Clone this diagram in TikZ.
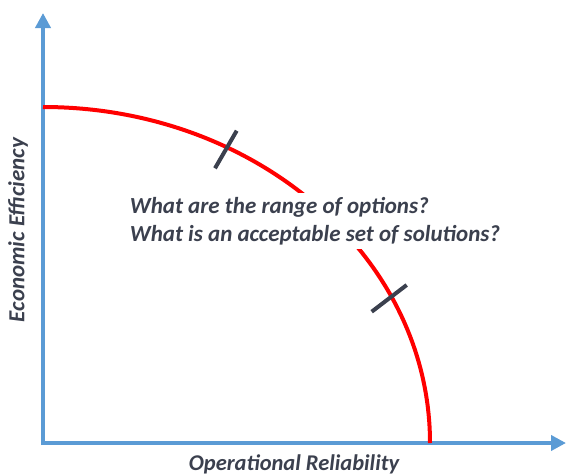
\documentclass[tikz,border=0pt]{standalone}
\usepackage{fontspec}
\setmainfont{Carlito}
\usetikzlibrary{arrows.meta}
\usetikzlibrary{positioning}
\definecolor{axisblue}{HTML}{5B9BD5}
\definecolor{slate}{HTML}{3B404E}
\begin{document}
\begin{tikzpicture}[x=1pt,y=-1pt,
  axis/.style={axisblue,line width=4pt,-{Triangle[width=15pt,length=15pt]}},
  front/.style={red,line width=4pt},
  tick/.style={slate,line width=4pt},
  every node/.style={text=slate,font=\bfseries\itshape}]
\useasboundingbox (0,0) rectangle (566,475);
% axes
\coordinate (o) at (43,443);
\coordinate (ytop) at (43,13);
\coordinate (xend) at (566,443);
\draw[axis] ([yshift=-2pt]o) -- (ytop);
\draw[axis] ([xshift=-2pt]o) -- (xend);
% trade-off curve
\draw[front] (43,107) arc[start angle=90,end angle=0,x radius=387,y radius=-336];
\node[fill=white,align=left,font=\fontsize{23}{28}\selectfont\bfseries\itshape,inner sep=4pt] (q) at (315,221)
  {What are the range of options?\\What is an acceptable set of solutions?};
% marks on the curve
\coordinate (a1) at (236.7,130.7);
\coordinate (a2) at (215,168.3);
\coordinate (b1) at (406.7,285);
\coordinate (b2) at (371.7,311.7);
\draw[tick] (a1) -- (a2);
\draw[tick] (b1) -- (b2);
% labels
\node[rotate=90,font=\fontsize{23}{26}\selectfont\bfseries\itshape] (ylab) at (18,230) {Economic Efficiency};
\node[font=\fontsize{22.5}{26}\selectfont\bfseries\itshape] (xlab) at (294,464) {Operational Reliability};
\end{tikzpicture}
\end{document}
